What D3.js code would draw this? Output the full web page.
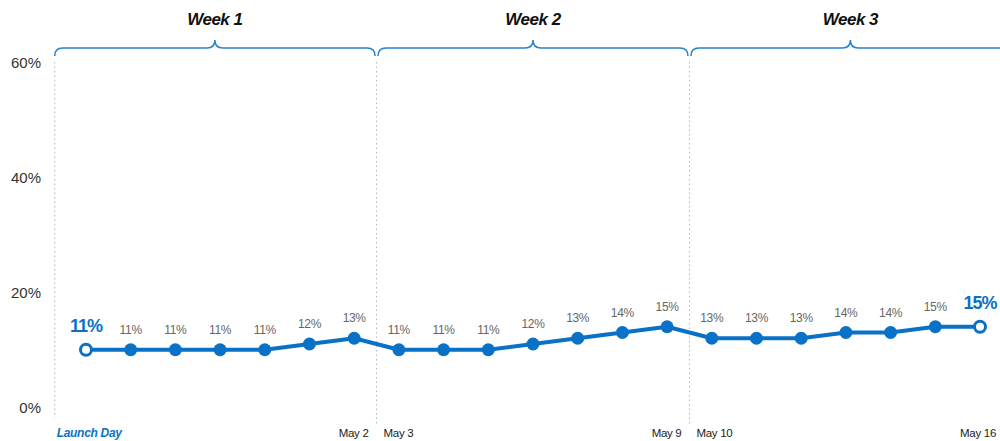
<!DOCTYPE html>
<html lang="en">
<head>
    <meta charset="UTF-8">
    <title>Launch trend</title>
    <script src="https://cdnjs.cloudflare.com/ajax/libs/d3/7.8.5/d3.min.js"></script>
    <style>
        body {
            margin: 0;
            background: #fff;
            font-family: "Liberation Sans", Arial, sans-serif;
        }
        #chart {
            width: 1000px;
            height: 441px;
        }
    </style>
</head>
<body>
    <div id="chart"></div>

    <script>
        // data
        const days = ["Apr 26", "Apr 27", "Apr 28", "Apr 29", "Apr 30", "May 1", "May 2",
                      "May 3", "May 4", "May 5", "May 6", "May 7", "May 8", "May 9",
                      "May 10", "May 11", "May 12", "May 13", "May 14", "May 15", "May 16"];
        const values = [11, 11, 11, 11, 11, 12, 13,
                        11, 11, 11, 12, 13, 14, 15,
                        13, 13, 13, 14, 14, 15, 15];
        const weeks = ["Week 1", "Week 2", "Week 3"];
        const yTicks = [0, 20, 40, 60];
        const dateLabels = [
            {day: "Apr 26", text: "Launch Day", side: "start"},
            {day: "May 2", text: "May 2", side: "end"},
            {day: "May 3", text: "May 3", side: "start"},
            {day: "May 9", text: "May 9", side: "end"},
            {day: "May 10", text: "May 10", side: "start"},
            {day: "May 16", text: "May 16", side: "end"}
        ];

        const blue = "#0a72c6";
        const width = 1000, height = 441;

        const svg = d3.select("#chart").append("svg")
            .attr("width", width)
            .attr("height", height);

        const x = d3.scalePoint()
            .domain(days)
            .range([54.7, 1011.3])
            .padding(0.7);

        const y = d3.scaleLinear()
            .domain([0, 60])
            .range([413, 68]);

        const step = x.step();
        // week boundaries
        const bounds = [
            x(days[0]) - step * 0.7,
            (x(days[6]) + x(days[7])) / 2,
            (x(days[13]) + x(days[14])) / 2,
            x(days[20]) + step * 0.7
        ];

        // y axis labels
        svg.append("g")
            .selectAll("text")
            .data(yTicks)
            .enter()
            .append("text")
            .attr("x", 41)
            .attr("y", d => y(d))
            .attr("text-anchor", "end")
            .style("font-size", "15px")
            .style("fill", "#333")
            .text(d => d + "%");

        // dotted separators
        svg.append("g")
            .selectAll("line")
            .data(bounds.slice(0, 3))
            .enter()
            .append("line")
            .attr("x1", d => d)
            .attr("x2", d => d)
            .attr("y1", 62)
            .attr("y2", (d, i) => i === 0 ? 418 : 424)
            .attr("stroke", "#b5b5b5")
            .attr("stroke-width", 1)
            .attr("stroke-dasharray", "1.5,3");

        // braces
        function bracePath(x0, x1) {
            const xm = (x0 + x1) / 2, yb = 48, r = 8;
            return `M${x0},56 Q${x0},${yb} ${x0 + r},${yb} L${xm - r},${yb} Q${xm},${yb} ${xm},40 ` +
                   `Q${xm},${yb} ${xm + r},${yb} L${x1 - r},${yb} Q${x1},${yb} ${x1},56`;
        }

        const braces = svg.append("g");
        weeks.forEach((w, i) => {
            const x0 = bounds[i] + (i === 0 ? 0 : 1.5);
            const x1 = bounds[i + 1] - 1.5;
            braces.append("path")
                .attr("d", bracePath(x0, x1))
                .attr("fill", "none")
                .attr("stroke", "#2a82cc")
                .attr("stroke-width", 1.5);
            braces.append("text")
                .attr("x", (x0 + x1) / 2)
                .attr("y", 25)
                .attr("text-anchor", "middle")
                .style("font-size", "17px")
                .style("font-weight", "bold")
                .style("font-style", "italic")
                .style("letter-spacing", "-0.5px")
                .style("fill", "#111")
                .text(w);
        });

        // line
        const line = d3.line()
            .x((d, i) => x(days[i]))
            .y(d => y(d));

        svg.append("path")
            .datum(values)
            .attr("d", line)
            .attr("fill", "none")
            .attr("stroke", blue)
            .attr("stroke-width", 4)
            .attr("stroke-linejoin", "round");

        const last = values.length - 1;

        // dots
        svg.append("g")
            .selectAll("circle")
            .data(values)
            .enter()
            .append("circle")
            .attr("cx", (d, i) => x(days[i]))
            .attr("cy", d => y(d))
            .attr("r", (d, i) => (i === 0 || i === last) ? 5.5 : 6.5)
            .attr("fill", (d, i) => (i === 0 || i === last) ? "#fff" : blue)
            .attr("stroke", blue)
            .attr("stroke-width", (d, i) => (i === 0 || i === last) ? 3 : 0);

        // value labels
        svg.append("g")
            .selectAll("text")
            .data(values)
            .enter()
            .append("text")
            .attr("x", (d, i) => x(days[i]))
            .attr("y", (d, i) => (i === 0 || i === last) ? y(d) - 18 : y(d) - 16)
            .attr("text-anchor", "middle")
            .style("font-size", (d, i) => (i === 0 || i === last) ? "18px" : "12px")
            .style("font-weight", (d, i) => (i === 0 || i === last) ? "bold" : "normal")
            .style("letter-spacing", (d, i) => (i === 0 || i === last) ? "-1px" : "-0.3px")
            .style("fill", (d, i) => (i === 0 || i === last) ? blue : "#666")
            .text(d => d + "%");

        // date labels
        svg.append("g")
            .selectAll("text")
            .data(dateLabels)
            .enter()
            .append("text")
            .attr("x", d => {
                const idx = days.indexOf(d.day);
                if (idx === 0) return bounds[0] + 2;
                if (idx === last) return x(d.day) + 16;
                return d.side === "end" ? bounds[Math.ceil(idx / 7)] - 8 : bounds[idx / 7] + 7;
            })
            .attr("y", 437)
            .attr("text-anchor", d => d.side)
            .style("font-size", d => d.day === days[0] ? "12px" : "11.5px")
            .style("font-weight", d => d.day === days[0] ? "bold" : "normal")
            .style("font-style", d => d.day === days[0] ? "italic" : "normal")
            .style("letter-spacing", "-0.3px")
            .style("fill", d => d.day === days[0] ? blue : "#222")
            .text(d => d.text);
    </script>
</body>
</html>
